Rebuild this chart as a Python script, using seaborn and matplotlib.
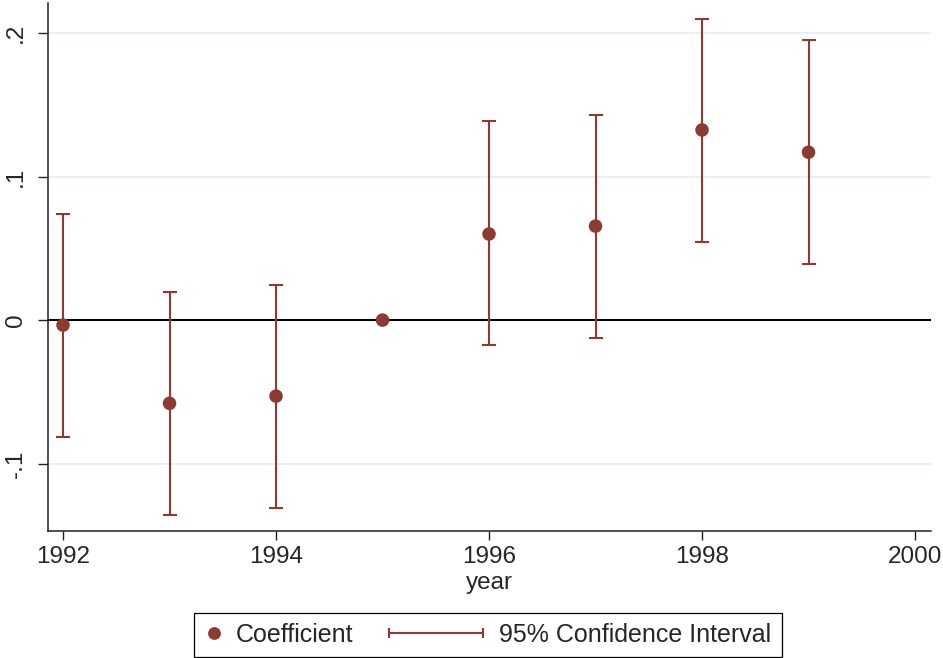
import numpy as np
import pandas as pd
import matplotlib
matplotlib.use("Agg")
import matplotlib.pyplot as plt
import seaborn as sns
from matplotlib.lines import Line2D
from matplotlib.legend_handler import HandlerBase, HandlerLine2D

# ---- data ----
years = [1992, 1993, 1994, 1995, 1996, 1997, 1998, 1999]
coef = [-0.0035, -0.058, -0.053, 0.0, 0.060, 0.0655, 0.1325, 0.117]
ci_low = [-0.0815, -0.136, -0.131, np.nan, -0.0175, -0.0125, 0.0545, 0.039]
ci_high = [0.074, 0.0195, 0.0245, np.nan, 0.139, 0.143, 0.210, 0.195]
xticks = [1992, 1994, 1996, 1998, 2000]
yticks = [-0.1, 0.0, 0.1, 0.2]
ytick_labels = ["-.1", "0", ".1", ".2"]

df = pd.DataFrame({"year": years, "coef": coef, "lo": ci_low, "hi": ci_high})

sns.set_theme(style="white")
plt.rcParams["font.family"] = ["Liberation Sans", "DejaVu Sans"]

COL = "#8E3A30"
FS = 17.5
LFS = 18

fig = plt.figure(figsize=(9.43, 6.58), dpi=100)
ax = fig.add_axes([48 / 943, 127 / 658, 883 / 943, 528 / 658])

# grid lines and zero line
for yv in yticks:
    if yv == 0:
        ax.axhline(0, color="black", lw=1.5, zorder=2)
    else:
        ax.axhline(yv, color="#E6EFF1", lw=1.3, zorder=1)

# confidence intervals
ci = df.dropna()
ax.errorbar(ci["year"], (ci["lo"] + ci["hi"]) / 2,
            yerr=[(ci["hi"] - ci["lo"]) / 2, (ci["hi"] - ci["lo"]) / 2],
            fmt="none", ecolor=COL, elinewidth=1.5, capsize=4.7, capthick=1.5,
            zorder=3)

# coefficients
sns.scatterplot(data=df, x="year", y="coef", ax=ax, color=COL, s=95,
                edgecolor="none", linewidth=0, zorder=4, legend=False)

ax.set_xlim(1991.859, 2000.15)
ax.set_ylim(-0.147, 0.221)
ax.set_xticks(xticks)
ax.set_xticklabels([str(x) for x in xticks], fontsize=FS)
ax.set_yticks(yticks)
ax.set_yticklabels(ytick_labels, fontsize=FS, rotation=90, va="center")
ax.set_xlabel("year", fontsize=FS, labelpad=3)
ax.set_ylabel("")

for s in ["top", "right"]:
    ax.spines[s].set_visible(False)
for s in ["left", "bottom"]:
    ax.spines[s].set_color("#222222")
    ax.spines[s].set_linewidth(1.1)
ax.tick_params(axis="y", length=7.2, width=1.0, pad=8, color="#222222", left=True)
ax.tick_params(axis="x", length=6.5, width=1.0, pad=4, color="#222222", bottom=True)


class CIHandler(HandlerBase):
    def create_artists(self, legend, orig_handle, xdescent, ydescent,
                       width, height, fontsize, trans):
        y = height / 2 - ydescent
        x1 = width - xdescent - 3.6
        x0 = x1 - 67.7
        line = Line2D([x0, x1], [y, y], color=COL, lw=1.5, transform=trans)
        caps = Line2D([x0, x1], [y, y], ls="", marker="|", ms=7,
                      mew=1.5, color=COL, transform=trans)
        return [line, caps]


h_coef = Line2D([], [], marker="o", ls="", color=COL, ms=9.2, mec="none")
h_ci = Line2D([], [], color=COL)
leg = fig.legend([h_coef, h_ci], ["Coefficient", "95% Confidence Interval"],
                 loc="center", bbox_to_anchor=(488 / 943, 1 - 634.5 / 658),
                 ncol=2, fontsize=LFS, frameon=True, fancybox=False,
                 framealpha=1, edgecolor="black", numpoints=1,
                 handlelength=0.8, handletextpad=0.45, columnspacing=4.6,
                 borderpad=0.4,
                 handler_map={h_ci: CIHandler(), h_coef: HandlerLine2D(numpoints=1)})
leg.get_frame().set_linewidth(0.9)

fig.savefig("out.png", dpi=100)
